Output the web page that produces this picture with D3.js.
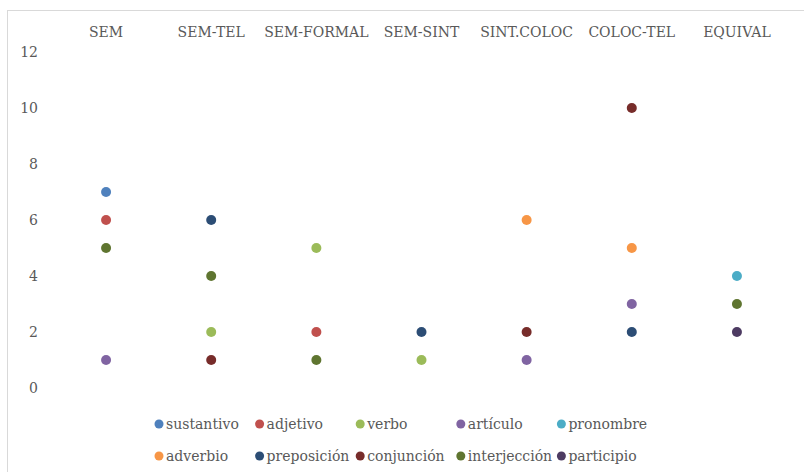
<!DOCTYPE html>
<html>
<head>
<meta charset="utf-8">
<script src="https://cdn.jsdelivr.net/npm/d3@7"></script>
<style>
  body { margin: 0; background: #fff; }
  text { font-family: "DejaVu Serif", serif; fill: #595959; }
</style>
</head>
<body>
<svg id="chart" width="804" height="472"></svg>
<script>
// categories along the top
const categories = ["SEM", "SEM-TEL", "SEM-FORMAL", "SEM-SINT", "SINT.COLOC", "COLOC-TEL", "EQUIVAL"];
const yTicks = [0, 2, 4, 6, 8, 10, 12];

// one array per word class, value per category (null = no point)
const sustantivo   = [7, null, null, null, null, null, null];
const adjetivo     = [6, null, 2, null, null, null, null];
const verbo        = [null, 2, 5, 1, null, null, null];
const articulo     = [1, null, null, null, 1, 3, null];
const pronombre    = [null, null, null, null, null, null, 4];
const adverbio     = [null, null, null, null, 6, 5, null];
const preposicion  = [null, 6, null, 2, null, 2, null];
const conjuncion   = [null, 1, null, null, 2, 10, null];
const interjeccion = [5, 4, 1, null, null, null, 3];
const participio   = [null, null, null, null, null, null, 2];

const seriesNames = ["sustantivo", "adjetivo", "verbo", "artículo", "pronombre",
  "adverbio", "preposición", "conjunción", "interjección", "participio"];
const seriesValues = [sustantivo, adjetivo, verbo, articulo, pronombre,
  adverbio, preposicion, conjuncion, interjeccion, participio];

// office 2010 palette
const colors = ["#4F81BD", "#C0504D", "#9BBB59", "#8064A2", "#4BACC6",
  "#F79646", "#2C4D75", "#772C2A", "#5F7530", "#4D3B62"];

const svg = d3.select("#chart");

// chart area border (only top/left fall inside the picture)
svg.append("rect")
  .attr("x", 7.5).attr("y", 10.5)
  .attr("width", 820).attr("height", 480)
  .attr("fill", "none")
  .attr("stroke", "#d9d9d9");

const x = d3.scaleBand()
  .domain(categories)
  .range([53.5, 789.5]);
const y = d3.scaleLinear()
  .domain([0, 12])
  .range([388, 52]);

// category labels along the top
svg.append("g")
  .selectAll("text")
  .data(categories)
  .join("text")
    .attr("x", d => x(d) + x.bandwidth() / 2)
    .attr("y", 32)
    .attr("dy", "0.35em")
    .attr("text-anchor", "middle")
    .attr("font-size", 14)
    .text(d => d);

// y axis labels, no line
const yaxis = svg.append("g")
  .attr("transform", "translate(38,0)")
  .call(d3.axisLeft(y).tickValues(yTicks).tickSize(0).tickPadding(0));
yaxis.select(".domain").remove();
yaxis.selectAll("text")
  .attr("font-size", 14)
  .attr("font-family", "DejaVu Serif, serif")
  .attr("fill", "#595959");

// points
const points = [];
seriesValues.forEach((vals, si) => {
  vals.forEach((v, ci) => {
    if (v !== null) points.push({ s: si, cat: categories[ci], v: v });
  });
});

svg.append("g")
  .selectAll("circle")
  .data(points)
  .join("circle")
    .attr("cx", d => x(d.cat) + x.bandwidth() / 2)
    .attr("cy", d => y(d.v))
    .attr("r", 5)
    .attr("fill", d => colors[d.s]);

// legend: two rows of five
const legend = svg.append("g");
const items = legend.selectAll("g")
  .data(seriesNames)
  .join("g")
    .attr("transform", (d, i) => `translate(${159 + (i % 5) * 100.6},${i < 5 ? 424 : 456})`);
items.append("circle")
  .attr("r", 4.5)
  .attr("fill", (d, i) => colors[i]);
items.append("text")
  .attr("x", 7)
  .attr("dy", "0.35em")
  .attr("font-size", 14)
  .text(d => d);
</script>
</body>
</html>
